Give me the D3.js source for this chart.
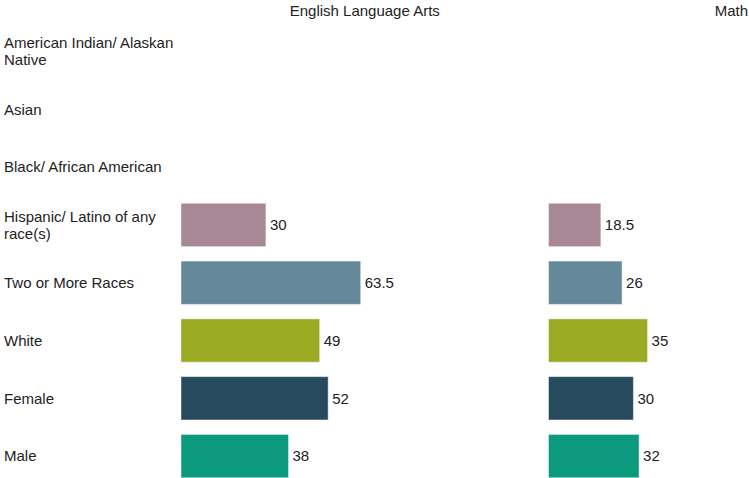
<!DOCTYPE html>
<html>
<head>
<meta charset="utf-8">
<script src="https://cdn.jsdelivr.net/npm/d3@7"></script>
<style>
	body { margin: 0; background: #fff; }
	svg { display: block; font-family: 'Liberation Sans', Arial, sans-serif; }
</style>
</head>
<body>
<svg id="chart"></svg>
<script>
// Categories (rows) and subjects (panels)
const categories = [
	'American Indian/ Alaskan Native',
	'Asian',
	'Black/ African American',
	'Hispanic/ Latino of any race(s)',
	'Two or More Races',
	'White',
	'Female',
	'Male'
];
const subjects = ['English Language Arts', 'Math'];

// Values per subject, null = no data shown
const elaValues = [null, null, null, 30, 63.5, 49, 52, 38];
const mathValues = [null, null, null, 18.5, 26, 35, 30, 32];

const barColors = ['#a88796', '#a88796', '#a88796', '#a88796', '#66899a', '#9aab23', '#264b5e', '#0b9a7e'];

const width = 749;
const height = 478;

const svg = d3.select('#chart').attr('width', width).attr('height', height);

// Row scale
const y = d3.scaleBand()
	.domain(categories)
	.range([22.7, 485])
	.paddingInner(0.25)
	.paddingOuter(0.125);

// Panel scale - each subject gets its own column
const panel = d3.scaleBand()
	.domain(subjects)
	.range([181, 181 + 2 * 367.5]);

// Value scale, shared by both panels
const x = d3.scaleLinear().domain([0, 100]).range([0, 283]);

// Row labels - wrapped at ~176px
const labels = svg.append('g').attr('class', 'labels');
labels.selectAll('text')
	.data(categories)
	.join('text')
	.attr('x', 4)
	.attr('y', (d) => y(d) + y.bandwidth() / 2)
	.attr('font-size', 15)
	.attr('fill', '#222')
	.each(function (d) {
		const text = d3.select(this);
		const words = d.split(' ');
		let lines = [];
		let line = [];
		const tspan = text.append('tspan');
		words.forEach((w) => {
			line.push(w);
			tspan.text(line.join(' '));
			if (tspan.node().getComputedTextLength() > 176 && line.length > 1) {
				line.pop();
				lines.push(line.join(' '));
				line = [w];
			}
		});
		lines.push(line.join(' '));
		tspan.remove();
		const lh = 17;
		const yc = +text.attr('y');
		lines.forEach((l, i) => {
			text.append('tspan')
				.attr('x', 4)
				.attr('y', yc + (i - (lines.length - 1) / 2) * lh)
				.attr('dy', '0.35em')
				.text(l);
		});
	});

// Panels
const allValues = [elaValues, mathValues];

subjects.forEach((subject, si) => {
	const x0 = panel(subject);
	const g = svg.append('g').attr('transform', `translate(${x0},0)`);

	// header, centred on panel but kept inside the picture
	const header = g.append('text')
		.attr('y', 11)
		.attr('dy', '0.35em')
		.attr('font-size', 15)
		.attr('fill', '#222')
		.attr('text-anchor', 'middle')
		.text(subject);
	const hw = header.node().getComputedTextLength();
	let hx = panel.bandwidth() / 2;
	if (x0 + hx + hw / 2 > width - 1) hx = width - 1 - x0 - hw / 2;
	header.attr('x', hx);

	const rows = categories
		.map((c, i) => ({ cat: c, value: allValues[si][i], color: barColors[i] }))
		.filter((d) => d.value != null);

	g.selectAll('rect')
		.data(rows)
		.join('rect')
		.attr('x', x(0))
		.attr('y', (d) => y(d.cat))
		.attr('width', (d) => x(d.value))
		.attr('height', y.bandwidth())
		.attr('fill', (d) => d.color)
		.attr('stroke', 'rgba(255,255,255,0.45)')
		.attr('stroke-width', 1);

	g.selectAll('text.value')
		.data(rows)
		.join('text')
		.attr('class', 'value')
		.attr('x', (d) => x(d.value) + 4)
		.attr('y', (d) => y(d.cat) + y.bandwidth() / 2)
		.attr('dy', '0.35em')
		.attr('font-size', 15)
		.attr('fill', '#222')
		.text((d) => d.value);
});
</script>
</body>
</html>
